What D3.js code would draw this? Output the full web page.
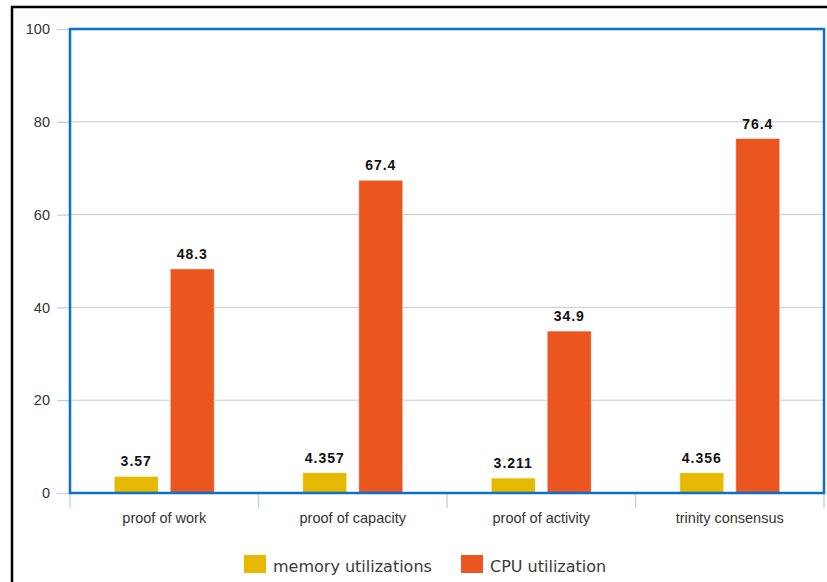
<!DOCTYPE html>
<html>
<head>
<meta charset="utf-8">
<script src="https://cdn.jsdelivr.net/npm/d3@7"></script>
<style>
  html, body { margin: 0; padding: 0; background: #fff; }
  svg { display: block; }
</style>
</head>
<body>
<svg id="chart" width="827" height="582"></svg>
<script>
// Consensus algorithms compared on resource use
const categories = ["proof of work", "proof of capacity", "proof of activity", "trinity consensus"];
const seriesNames = ["memory utilizations", "CPU utilization"];
const memoryValues = [3.57, 4.357, 3.211, 4.356];
const cpuValues = [48.3, 67.4, 34.9, 76.4];
const yTicks = [0, 20, 40, 60, 80, 100];
const seriesColors = ["#e6b800", "#eb5620"];

const seriesValues = [memoryValues, cpuValues];

const svg = d3.select("#chart");
const W = 827, H = 582;
const plot = { left: 70, right: 824, top: 29, bottom: 493 };
const axisFont = "'Liberation Sans', Arial, sans-serif";

// Outer black frame (left and top edges)
svg.append("path")
  .attr("d", `M12,${H} L12,7 L${W},7`)
  .attr("fill", "none")
  .attr("stroke", "#000")
  .attr("stroke-width", 2.5);

const y = d3.scaleLinear().domain([0, 100]).range([plot.bottom, plot.top]);
const x0 = d3.scaleBand().domain(categories).range([plot.left, plot.right]).padding(0);
const x1 = d3.scaleBand().domain(seriesNames).range([0, x0.bandwidth()])
  .paddingInner(0.214).paddingOuter(0.79);

// Horizontal gridlines
svg.append("g").selectAll("line")
  .data(yTicks.filter(t => t > 0 && t < 100))
  .join("line")
  .attr("x1", plot.left).attr("x2", plot.right)
  .attr("y1", d => y(d)).attr("y2", d => y(d))
  .attr("stroke", "#c9c9c9").attr("stroke-width", 1);

// Y axis ticks and labels
const yAxis = svg.append("g")
  .attr("transform", `translate(${plot.left},0)`)
  .call(d3.axisLeft(y).tickValues(yTicks).tickSize(13).tickPadding(7));
yAxis.select(".domain").remove();
yAxis.selectAll(".tick line").attr("stroke", "#b9cfe6").attr("stroke-width", 1.2);
yAxis.selectAll(".tick text")
  .attr("fill", "#333")
  .attr("font-family", axisFont)
  .attr("font-size", 14.5);

// X axis: boundary ticks between categories
const boundaries = [plot.left, ...categories.map(c => x0(c) + x0.bandwidth())];
svg.append("g").selectAll("line")
  .data(boundaries)
  .join("line")
  .attr("x1", d => d).attr("x2", d => d)
  .attr("y1", plot.bottom).attr("y2", plot.bottom + 15)
  .attr("stroke", "#c5d6e8").attr("stroke-width", 1.5);

svg.append("g").selectAll("text")
  .data(categories)
  .join("text")
  .attr("x", d => x0(d) + x0.bandwidth() / 2)
  .attr("y", 523)
  .attr("text-anchor", "middle")
  .attr("fill", "#333")
  .attr("font-family", axisFont)
  .attr("font-size", 14.5)
  .text(d => d);

// Bars
const groups = svg.append("g").selectAll("g")
  .data(categories)
  .join("g")
  .attr("transform", d => `translate(${x0(d)},0)`);

groups.selectAll("rect")
  .data((d, i) => seriesNames.map((s, j) => ({ s, j, v: seriesValues[j][i] })))
  .join("rect")
  .attr("x", d => x1(d.s))
  .attr("width", x1.bandwidth())
  .attr("y", d => y(d.v))
  .attr("height", d => y(0) - y(d.v))
  .attr("fill", d => seriesColors[d.j])
  .attr("stroke", "rgba(255,255,255,0.5)")
  .attr("stroke-width", 1);

// Value labels
groups.selectAll("text")
  .data((d, i) => seriesNames.map((s, j) => ({ s, j, v: seriesValues[j][i] })))
  .join("text")
  .attr("x", d => x1(d.s) + x1.bandwidth() / 2)
  .attr("y", d => y(d.v) - 10)
  .attr("text-anchor", "middle")
  .attr("fill", "#111")
  .attr("font-family", axisFont)
  .attr("font-weight", "bold")
  .attr("font-size", 14)
  .attr("letter-spacing", 1)
  .text(d => String(d.v));

// Plot frame
svg.append("rect")
  .attr("x", plot.left).attr("y", plot.top)
  .attr("width", plot.right - plot.left)
  .attr("height", plot.bottom - plot.top)
  .attr("fill", "none")
  .attr("stroke", "#0a72c6")
  .attr("stroke-width", 2.5);

// Legend
const legendItems = [
  { name: seriesNames[0], color: seriesColors[0], x: 244 },
  { name: seriesNames[1], color: seriesColors[1], x: 461 }
];
const legend = svg.append("g").selectAll("g")
  .data(legendItems)
  .join("g")
  .attr("transform", d => `translate(${d.x},555)`);
legend.append("rect")
  .attr("width", 22).attr("height", 18)
  .attr("fill", d => d.color);
legend.append("text")
  .attr("x", 29).attr("y", 17)
  .attr("fill", "#3a3a3a")
  .attr("font-family", "'DejaVu Sans', sans-serif")
  .attr("font-size", 16)
  .text(d => d.name);
</script>
</body>
</html>
